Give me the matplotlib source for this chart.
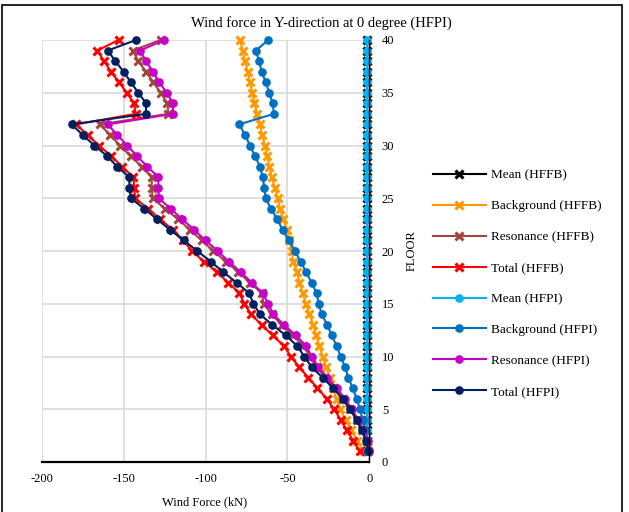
import matplotlib
matplotlib.use("Agg")
import matplotlib.pyplot as plt
from matplotlib.patches import Rectangle

plt.rcParams["font.family"] = "Liberation Serif"
plt.rcParams["axes.unicode_minus"] = False

# floors 1..40
floors = list(range(1, 41))

mean_hffb = [-1.5, -1.5, -1.5, -1.5, -1.5, -1.5, -1.5, -1.5, -1.5, -1.5,
             -1.5, -1.5, -1.5, -1.5, -1.5, -1.5, -1.5, -1.5, -1.5, -1.5,
             -1.5, -1.5, -1.5, -1.5, -1.5, -1.5, -1.5, -1.5, -1.5, -1.5,
             -1.5, -1.5, -1.5, -1.5, -1.5, -1.5, -1.5, -1.5, -1.5, -1.5]
background_hffb = [-3.5, -7.5, -11.0, -14.5, -17.9, -19.9, -22.0, -24.0, -26.4, -28.5,
                   -30.5, -32.5, -34.2, -36.6, -38.6, -40.7, -42.7, -44.0, -46.4, -47.4,
                   -48.8, -50.4, -52.5, -54.5, -55.9, -57.6, -59.6, -61.0, -62.3, -63.7,
                   -65.5, -66.7, -68.4, -70.2, -71.4, -72.8, -74.2, -75.9, -77.3, -78.9]
resonance_hffb = [-0.5, -1.6, -4.6, -7.7, -11.8, -16.3, -21.5, -27.0, -32.1, -36.2,
                  -40.3, -46.4, -53.5, -59.6, -64.5, -65.7, -72.8, -80.0, -87.5, -95.2,
                  -102.3, -109.5, -116.6, -124.7, -132.2, -132.8, -132.8, -139.0, -145.7, -152.2,
                  -158.3, -164.4, -122.7, -123.3, -127.4, -131.9, -136.3, -141.0, -144.5, -127.4]
total_hffb = [-5.7, -9.8, -13.8, -17.5, -21.5, -26.0, -31.7, -37.2, -42.9, -47.8,
              -52.1, -59.0, -65.7, -72.4, -76.2, -79.4, -86.1, -93.2, -100.9, -108.4,
              -113.5, -120.0, -127.5, -135.0, -143.0, -143.5, -144.0, -151.0, -157.5, -165.0,
              -172.0, -179.0, -142.6, -143.6, -148.1, -152.8, -157.7, -162.0, -166.0, -153.1]

mean_hfpi = [-1.5, -1.5, -1.5, -1.5, -1.5, -1.5, -1.5, -1.5, -1.5, -1.5,
             -1.5, -1.5, -1.5, -1.5, -1.5, -1.5, -1.5, -1.5, -1.5, -1.5,
             -1.5, -1.5, -1.5, -1.5, -1.5, -1.5, -1.5, -1.5, -1.5, -1.5,
             -1.5, -1.5, -1.5, -1.5, -1.5, -1.5, -1.5, -1.5, -1.5, -1.5]
background_hfpi = [-0.2, -1.2, -2.6, -4.0, -5.7, -7.7, -10.1, -12.8, -14.8, -17.5,
                   -19.9, -23.0, -25.6, -29.1, -30.8, -32.2, -35.2, -38.6, -41.9, -45.4,
                   -49.0, -52.9, -56.2, -60.0, -63.3, -64.1, -65.1, -66.7, -69.8, -72.8,
                   -75.9, -79.4, -58.2, -59.0, -61.2, -63.2, -65.7, -67.3, -69.2, -61.7]
resonance_hfpi = [-0.3, -1.0, -3.7, -6.7, -10.7, -14.8, -19.9, -25.6, -31.1, -35.2,
                  -38.6, -44.7, -52.1, -58.6, -61.8, -65.1, -71.8, -78.5, -85.8, -92.5,
                  -100.0, -106.8, -114.2, -121.2, -128.5, -128.8, -128.8, -135.6, -141.8, -147.9,
                  -153.8, -159.7, -120.0, -119.7, -123.7, -128.2, -132.2, -136.3, -140.0, -125.3]
total_hfpi = [-0.5, -2.2, -4.6, -7.7, -11.8, -16.3, -22.0, -28.5, -35.2, -39.7,
              -44.0, -51.0, -59.2, -66.7, -70.8, -73.3, -81.0, -89.1, -96.8, -105.0,
              -113.3, -121.5, -129.5, -137.3, -145.7, -146.4, -146.6, -153.9, -160.1, -167.8,
              -174.9, -181.8, -136.3, -136.3, -141.0, -145.6, -150.0, -155.0, -159.7, -142.4]

series = [
    ("Mean (HFFB)", mean_hffb, "#000000", "x"),
    ("Background (HFFB)", background_hffb, "#FF9900", "x"),
    ("Resonance (HFFB)", resonance_hffb, "#A0463C", "x"),
    ("Total (HFFB)", total_hffb, "#FF0000", "x"),
    ("Mean (HFPI)", mean_hfpi, "#00B0F0", "o"),
    ("Background (HFPI)", background_hfpi, "#0070C0", "o"),
    ("Resonance (HFPI)", resonance_hfpi, "#C800C8", "o"),
    ("Total (HFPI)", total_hfpi, "#002060", "o"),
]

fig = plt.figure(figsize=(6.29, 5.12), dpi=100)
ax = fig.add_axes([41.7 / 629, 1 - 462 / 512, (369.3 - 41.7) / 629, (462 - 40) / 512])

for label, vals, color, mk in series:
    if mk == "x":
        ax.plot(vals, floors, color=color, lw=1.5, marker="x", markersize=6.2,
                markeredgewidth=2.2, label=label, clip_on=False)
    else:
        ax.plot(vals, floors, color=color, lw=1.5, marker="o", markersize=5.2,
                label=label, clip_on=False)

ax.set_xlim(-200, 0)
ax.set_ylim(0, 40)
ax.set_xticks([-200, -150, -100, -50, 0])
ax.set_yticks([0, 5, 10, 15, 20, 25, 30, 35, 40])
ax.yaxis.tick_right()
ax.tick_params(axis="both", length=0, labelsize=9)
ax.tick_params(axis="x", pad=8)
ax.tick_params(axis="y", pad=9)
ax.grid(True, color="#D9D9D9", lw=1.2)
ax.set_axisbelow(True)
for s in ["top", "left"]:
    ax.spines[s].set_visible(False)
ax.spines["bottom"].set_linewidth(1.6)
ax.spines["right"].set_linewidth(1.0)

fig.text(321 / 629, 1 - 22.7 / 512, "Wind force in Y-direction at 0 degree (HFPI)",
         ha="center", va="center", fontsize=10.5)
fig.text(205 / 629, 1 - 502 / 512, "Wind Force (kN)", ha="center", va="center", fontsize=9)
fig.text(411.7 / 629, 1 - 251 / 512, "FLOOR", ha="center", va="center", rotation=90, fontsize=9)

ax.legend(loc="upper left", bbox_to_anchor=(433 / 629, 1 - 169 / 512),
          bbox_transform=fig.transFigure, frameon=False, fontsize=9.5,
          handlelength=4.0, handletextpad=0.4, labelspacing=1.42,
          borderpad=0, borderaxespad=0)

fig.patches.append(Rectangle((2 / 629, -0.1), 620 / 629, 1.1 - 5 / 512,
                             transform=fig.transFigure, fill=False,
                             edgecolor="#000000", lw=1.2))

fig.savefig("out.png", dpi=100)
